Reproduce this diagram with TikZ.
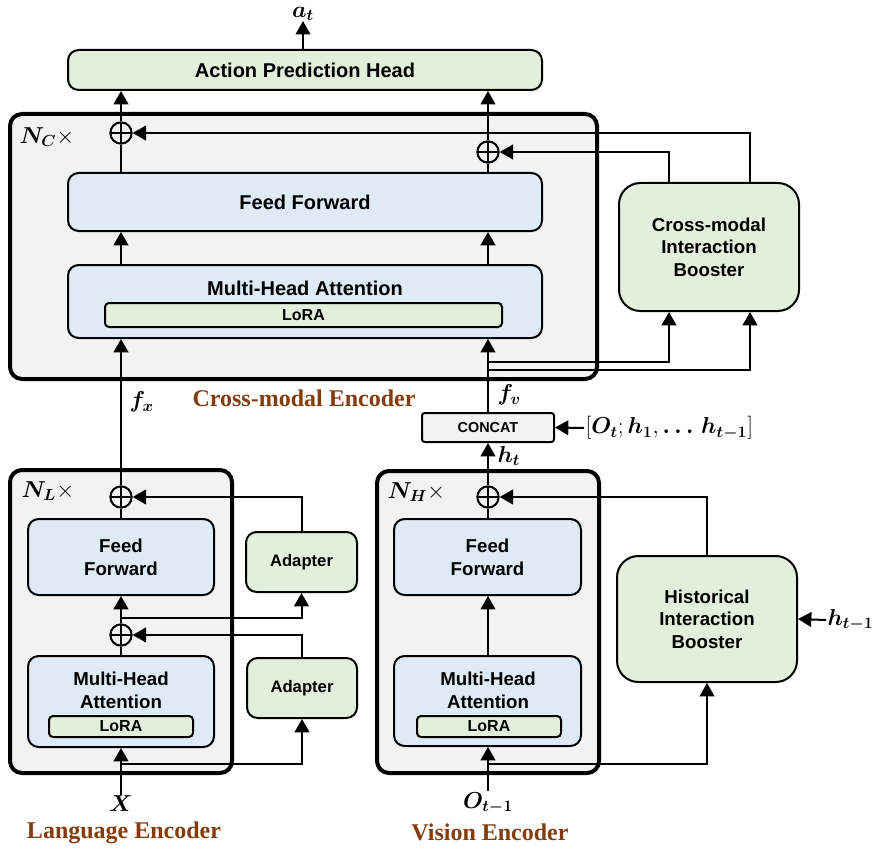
\documentclass[tikz,border=0pt]{standalone}
\usepackage{fontspec}
\setmainfont{Liberation Serif}
\setsansfont{Liberation Sans}
\usepackage{amsmath,bm}
\usetikzlibrary{arrows.meta,fit,calc}

\definecolor{boxgreen}{HTML}{E2EFDA}
\definecolor{boxblue}{HTML}{DEEBF7}
\definecolor{panelgray}{HTML}{F2F2F2}
\definecolor{titlebrown}{HTML}{843C0C}

\tikzset{
  encpanel/.style={draw, line width=3pt, fill=panelgray, rounded corners=9pt, inner sep=0pt},
  blk/.style={draw, line width=1.5pt, rounded corners=8pt, inner sep=0pt},
  bluebox/.style={blk, fill=boxblue},
  greenbox/.style={blk, fill=boxgreen},
  txt/.style={inner sep=0pt, align=center, font=\sffamily\bfseries\fontsize{14}{17}\selectfont},
  bigtxt/.style={txt, font=\sffamily\bfseries\fontsize{15}{18}\selectfont},
  adtxt/.style={txt, font=\sffamily\bfseries\fontsize{12.5}{15}\selectfont},
  loratxt/.style={txt, font=\sffamily\bfseries\fontsize{12}{14}\selectfont},
  cattxt/.style={txt, font=\sffamily\bfseries\fontsize{10.8}{13}\selectfont},
  loratag/.style={blk, fill=boxgreen, rounded corners=3pt},
  conn/.style={line width=1.5pt},
  arr/.style={conn, -{Triangle[length=10pt,width=11pt]}},
  sumnode/.style={circle, draw, line width=1.5pt, minimum size=16pt, inner sep=0pt, fill=none,
    path picture={\draw[line width=1.5pt] (path picture bounding box.north) -- (path picture bounding box.south)
      (path picture bounding box.west) -- (path picture bounding box.east);}},
  mathlbl/.style={inner sep=1pt, font=\fontsize{17}{20}\selectfont},
  enctitle/.style={text=titlebrown, font=\rmfamily\bfseries\fontsize{18}{21}\selectfont},
}

\begin{document}
\begin{tikzpicture}[x=0.75pt,y=-0.75pt]
\useasboundingbox (0,0) rectangle (880,852);

% ---------- panels ----------
\node[encpanel, fit={(10,114) (597,379)}] (cme) {};
\node[encpanel, fit={(10,470) (232,773)}] (lenc) {};
\node[encpanel, fit={(377,471) (599,773)}] (venc) {};

% ---------- cross-modal encoder blocks ----------
\node[greenbox, fit={(68,50) (542,90)}] (aph) {};
\node[bigtxt] (aphtxt) at (aph.center) {Action Prediction Head};
\node[bluebox, fit={(68,173) (542,231)}] (ffc) {};
\node[bigtxt] (ffctxt) at (ffc.center) {Feed Forward};
\node[bluebox, fit={(68,265) (542,338)}] (mhac) {};
\node[bigtxt] (mhactxt) at (305,288) {Multi-Head Attention};
\node[loratag, fit={(105,303) (502,327)}] (lorac) {};
\node[loratxt] (loractxt) at (lorac.center) {LoRA};
\node[greenbox, rounded corners=16pt, fit={(619,183) (799,311)}] (cib) {};
\node[txt] (cibtxt) at (cib.center) {Cross-modal\\Interaction\\Booster};
\node[blk, fill=panelgray, rounded corners=2pt, fit={(422,413) (554,442)}] (concat) {};
\node[cattxt] (concattxt) at (concat.center) {CONCAT};

\node[sumnode] (p1) at (121,133) {};
\node[sumnode] (p2) at (488,152) {};

% ---------- language encoder blocks ----------
\node[bluebox, fit={(28,519) (214,595)}] (ffl) {};
\node[txt] (ffltxt) at (ffl.center) {Feed\\Forward};
\node[bluebox, fit={(28,656) (214,747)}] (mhal) {};
\node[txt] (mhaltxt) at (121,690) {Multi-Head\\Attention};
\node[loratag, fit={(49,716) (193,737)}] (loral) {};
\node[loratxt] (loraltxt) at (loral.center) {LoRA};
\node[greenbox, fit={(246,532) (357,592)}] (ad1) {};
\node[adtxt] (ad1txt) at (ad1.center) {Adapter};
\node[greenbox, fit={(247,658) (357,718)}] (ad2) {};
\node[adtxt] (ad2txt) at (ad2.center) {Adapter};
\node[sumnode] (p3) at (121,497) {};
\node[sumnode] (p4) at (121,635) {};

% ---------- vision encoder blocks ----------
\node[bluebox, fit={(394,519) (581,595)}] (ffv) {};
\node[txt] (ffvtxt) at (ffv.center) {Feed\\Forward};
\node[bluebox, fit={(394,656) (581,746)}] (mhav) {};
\node[txt] (mhavtxt) at (488,690) {Multi-Head\\Attention};
\node[loratag, fit={(417,716) (561,737)}] (lorav) {};
\node[loratxt] (loravtxt) at (lorav.center) {LoRA};
\node[greenbox, rounded corners=16pt, fit={(617,556) (797,682)}] (hib) {};
\node[txt] (hibtxt) at (hib.center) {Historical\\Interaction\\Booster};
\node[sumnode] (p5) at (488,497) {};

% ---------- labels ----------
\node[mathlbl, inner sep=0pt] (at) at (303,14) {$\bm{a_t}$};
\node[mathlbl, anchor=west] (nc) at (18,137) {$\bm{N_C}\times$};
\node[mathlbl, anchor=west] (nl) at (20,491) {$\bm{N_L}\times$};
\node[mathlbl, anchor=west] (nh) at (386,492) {$\bm{N_H}\times$};
\node[mathlbl, anchor=west] (fx) at (128,402) {$\bm{f_x}$};
\node[mathlbl, anchor=west] (fv) at (496,395) {$\bm{f_v}$};
\node[mathlbl, anchor=west] (ht) at (496,456) {$\bm{h_t}$};
\node[mathlbl, anchor=west] (hist) at (584,428) {$[\bm{O_t};\bm{h_1},\bm{\ldots}\,\bm{h_{t-1}}]$};
\node[mathlbl, anchor=west] (hprev) at (826,620) {$\bm{h_{t-1}}$};
\node[mathlbl] (xin) at (121,804) {$\bm{X}$};
\node[mathlbl] (oin) at (488,803) {$\bm{O_{t-1}}$};
\node[enctitle] (cmetitle) at (304,398) {Cross-modal Encoder};
\node[enctitle] (ltitle) at (124,833) {Language Encoder};
\node[enctitle] (vtitle) at (490,832) {Vision Encoder};

% ---------- helper coordinates ----------
\coordinate (cx1) at (669,0);
\coordinate (cx2) at (750,0);
\coordinate (jv1) at (488,362);
\coordinate (jv2) at (488,370);
\coordinate (jl1) at (121,618);
\coordinate (jl2) at (121,764);
\coordinate (jv3) at (488,764);

% ---------- cross-modal connectors ----------
\draw[arr] (aph.north -| at) -- (at.south);
\draw[arr] (p1.north) -- (p1.north |- aph.south);
\draw[arr] (p2.north) -- (p2.north |- aph.south);
\draw[conn] (p1 |- ffc.north) -- (p1.south);
\draw[conn] (p2 |- ffc.north) -- (p2.south);
\draw[arr] (p1 |- mhac.north) -- (p1 |- ffc.south);
\draw[arr] (p2 |- mhac.north) -- (p2 |- ffc.south);
\draw[arr] (cx2 |- cib.north) |- (p1.east);
\draw[arr] (cx1 |- cib.north) |- (p2.east);
\draw[arr] (p3.north) -- (p3.north |- mhac.south);
\draw[arr] (concat.north -| p2) -- (p2 |- mhac.south);
\draw[arr] (jv1) -| (cx1 |- cib.south);
\draw[arr] (jv2) -| (cx2 |- cib.south);
\draw[arr] (hist.west) -- (concat.east);
\draw[arr] (p5.north) -- (p5 |- concat.south);

% ---------- language connectors ----------
\draw[conn] (p3 |- ffl.north) -- (p3.south);
\draw[arr] (ad1.north) |- (p3.east);
\draw[arr] (p4.north) -- (p4 |- ffl.south);
\draw[arr] (jl1) -| (ad1.south);
\draw[arr] (ad2.north) |- (p4.east);
\draw[conn] (p4 |- mhal.north) -- (p4.south);
\draw[arr] (xin.north) -- (xin |- mhal.south);
\draw[arr] (jl2) -| (ad2.south);

% ---------- vision connectors ----------
\draw[conn] (p5 |- ffv.north) -- (p5.south);
\draw[arr] (p5 |- mhav.north) -- (p5 |- ffv.south);
\draw[arr] (oin.north) -- (oin |- mhav.south);
\draw[arr] (jv3) -| (hib.south);
\draw[arr] (hib.north) |- (p5.east);
\draw[arr] (hprev.west) -- (hib.east);
\end{tikzpicture}
\end{document}
